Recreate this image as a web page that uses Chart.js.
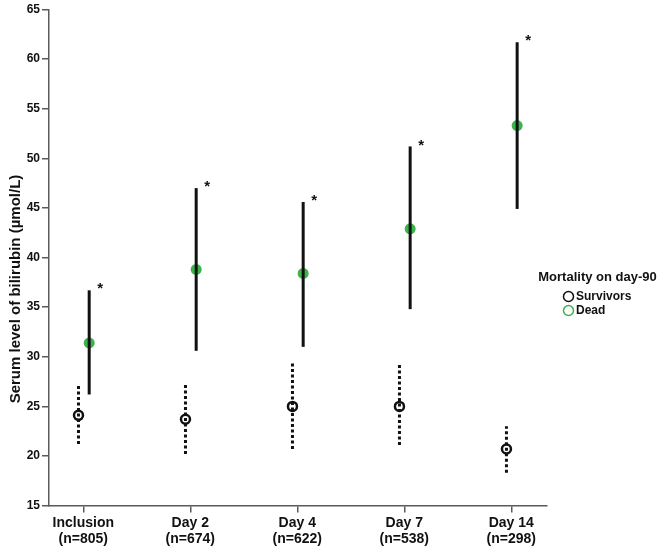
<!DOCTYPE html>
<html lang="en">
<head>
    <meta charset="UTF-8">
    <title>Serum bilirubin by mortality on day-90</title>
    <script src="https://cdn.jsdelivr.net/npm/chart.js"></script>
    <style>
        html, body {
            margin: 0;
            padding: 0;
            background: #fff;
        }
        .chart-box {
            width: 666px;
            height: 551px;
            position: relative;
        }
    </style>
</head>
<body>

<div class="chart-box">
    <canvas id="biliChart"></canvas>
</div>

<script>
    // time points and group sizes
    const categories = ['Inclusion', 'Day 2', 'Day 4', 'Day 7', 'Day 14'];
    const sampleSizes = ['(n=805)', '(n=674)', '(n=622)', '(n=538)', '(n=298)'];

    // survivors: mean and 95% CI
    const survivorsMean = [24.1, 23.7, 25.0, 25.0, 20.7];
    const survivorsLow  = [21.2, 20.2, 20.7, 21.1, 18.3];
    const survivorsHigh = [27.1, 27.2, 29.5, 29.2, 23.0];

    // dead: mean and 95% CI
    const deadMean = [31.4, 38.8, 38.4, 42.9, 53.3];
    const deadLow  = [26.2, 30.6, 31.0, 34.8, 44.9];
    const deadHigh = [36.7, 47.0, 45.6, 51.2, 61.7];

    // significant difference marker
    const significant = [true, true, true, true, true];

    const yMin = 15, yMax = 65, yStep = 5;

    const FONT = '"Liberation Sans", Arial, sans-serif';
    const GREEN = '#3cb44b';
    const AXIS = '#5a5a5a';

    function points(values, shift) {
        return values.map((v, i) => ({ x: i + shift, y: v }));
    }

    // vertical CI lines + asterisks
    const errorBars = {
        id: 'errorBars',
        afterDatasetsDraw(chart) {
            const ctx = chart.ctx;
            const y = chart.scales.y;
            chart.data.datasets.forEach((ds, di) => {
                const meta = chart.getDatasetMeta(di);
                meta.data.forEach((pt, i) => {
                    ctx.save();
                    ctx.strokeStyle = '#111';
                    ctx.lineWidth = 3;
                    ctx.setLineDash(ds.dashed ? [3, 2.5] : []);
                    ctx.beginPath();
                    ctx.moveTo(pt.x, y.getPixelForValue(ds.errLow[i]));
                    ctx.lineTo(pt.x, y.getPixelForValue(ds.errHigh[i]));
                    ctx.stroke();
                    ctx.restore();

                    if (ds.starred && significant[i]) {
                        ctx.save();
                        ctx.fillStyle = '#111';
                        ctx.font = 'bold 15px ' + FONT;
                        ctx.textAlign = 'center';
                        ctx.textBaseline = 'middle';
                        ctx.fillText('*', pt.x + 11, y.getPixelForValue(ds.errHigh[i]) - 1);
                        ctx.restore();
                    }
                });
            });
        }
    };

    // y title and legend block on the right
    const extras = {
        id: 'extras',
        afterDraw(chart) {
            const ctx = chart.ctx;
            ctx.save();
            ctx.fillStyle = '#111';
            ctx.font = 'bold 15px ' + FONT;
            ctx.textAlign = 'center';
            ctx.textBaseline = 'middle';
            ctx.translate(16, 289);
            ctx.rotate(-Math.PI / 2);
            ctx.fillText('Serum level of bilirubin (\u00b5mol/L)', 0, 0);
            ctx.restore();

            ctx.save();
            ctx.fillStyle = '#111';
            ctx.font = 'bold 13px ' + FONT;
            ctx.textAlign = 'center';
            ctx.textBaseline = 'middle';
            ctx.fillText('Mortality on day-90', 597.5, 277);

            const items = [
                { label: 'Survivors', color: '#111' },
                { label: 'Dead', color: GREEN }
            ];
            ctx.font = 'bold 12px ' + FONT;
            ctx.textAlign = 'left';
            items.forEach((it, k) => {
                const cy = 296.5 + k * 14;
                ctx.beginPath();
                ctx.arc(568.5, cy, 5, 0, Math.PI * 2);
                ctx.strokeStyle = it.color;
                ctx.lineWidth = 1.5;
                ctx.stroke();
                ctx.fillStyle = '#111';
                ctx.fillText(it.label, 576, cy + 0.5);
            });
            ctx.restore();
        }
    };

    const ctx = document.getElementById('biliChart').getContext('2d');

    const biliChart = new Chart(ctx, {
        type: 'scatter',
        data: {
            datasets: [
                {
                    label: 'Survivors',
                    data: points(survivorsMean, -0.045),
                    errLow: survivorsLow,
                    errHigh: survivorsHigh,
                    dashed: true,
                    starred: false,
                    pointRadius: 4.5,
                    pointBorderWidth: 2.5,
                    borderColor: '#111',
                    backgroundColor: 'rgba(0,0,0,0)'
                },
                {
                    label: 'Dead',
                    data: points(deadMean, 0.055),
                    errLow: deadLow,
                    errHigh: deadHigh,
                    dashed: false,
                    starred: true,
                    pointRadius: 5.5,
                    pointBorderWidth: 0,
                    borderColor: GREEN,
                    backgroundColor: GREEN
                }
            ]
        },
        options: {
            responsive: true,
            maintainAspectRatio: false,
            animation: false,
            layout: {
                padding: { left: 0, right: 119, top: 9.5, bottom: 0 }
            },
            plugins: {
                legend: { display: false },
                tooltip: { enabled: false }
            },
            scales: {
                x: {
                    type: 'linear',
                    min: -0.3206,
                    max: 4.334,
                    afterBuildTicks: s => {
                        s.ticks = categories.map((c, i) => ({ value: i }));
                    },
                    afterFit: s => { s.height = 45.4; },
                    ticks: {
                        autoSkip: false,
                        maxRotation: 0,
                        padding: 3,
                        color: '#111',
                        font: { family: FONT, size: 14, weight: 'bold', lineHeight: 1.1 },
                        callback: v => [categories[v], sampleSizes[v]]
                    },
                    grid: {
                        display: true,
                        drawOnChartArea: false,
                        drawTicks: true,
                        tickLength: 7,
                        color: AXIS,
                        lineWidth: 1.5
                    },
                    border: { display: true, color: AXIS, width: 1.5 }
                },
                y: {
                    min: yMin,
                    max: yMax,
                    afterFit: s => { s.width = 49; },
                    ticks: {
                        stepSize: yStep,
                        padding: 2,
                        color: '#111',
                        font: { family: FONT, size: 12, weight: 'bold' }
                    },
                    grid: {
                        display: true,
                        drawOnChartArea: false,
                        drawTicks: true,
                        tickLength: 7,
                        color: AXIS,
                        lineWidth: 1.5
                    },
                    border: { display: true, color: AXIS, width: 1.5 }
                }
            }
        },
        plugins: [errorBars, extras]
    });
</script>

</body>
</html>
